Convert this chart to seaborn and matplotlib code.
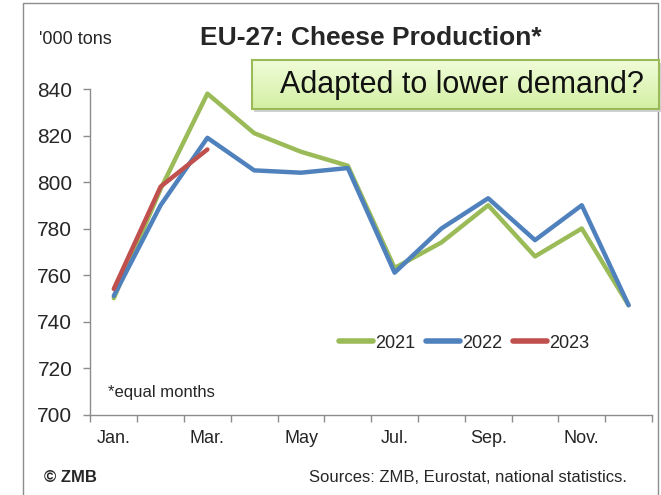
import numpy as np
import pandas as pd
import matplotlib
matplotlib.use('Agg')
import matplotlib.pyplot as plt
import matplotlib.patches as mpatches
import seaborn as sns

# data ('000 tons)
months = ['Jan.', 'Feb.', 'Mar.', 'Apr.', 'May', 'Jun.',
          'Jul.', 'Aug.', 'Sep.', 'Oct.', 'Nov.', 'Dec.']
prod_2021 = [750, 797, 838, 821, 813, 807, 763, 774, 790, 768, 780, 747]
prod_2022 = [751, 790, 819, 805, 804, 806, 761, 780, 793, 775, 790, 747]
prod_2023 = [754, 798, 814]

colors = {'2021': '#9BBB59', '2022': '#4F81BD', '2023': '#C0504D'}

# long form for seaborn
rows = []
for year, vals in [('2021', prod_2021), ('2022', prod_2022), ('2023', prod_2023)]:
    for i, v in enumerate(vals):
        rows.append({'month': i, 'value': v, 'year': year})
df = pd.DataFrame(rows)

sns.set_style('white')
plt.rcParams['font.family'] = ['Liberation Sans', 'DejaVu Sans']
plt.rcParams['lines.solid_capstyle'] = 'round'

W, H = 661, 495
fig = plt.figure(figsize=(W / 100, H / 100), dpi=100)

def fx(px):
    return px / W

def fy(py):
    return 1 - py / H

ax = fig.add_axes([fx(90.4), fy(414.5), fx(652) - fx(90.4), fy(89) - fy(414.5)])
ax.patch.set_visible(False)
sns.lineplot(data=df, x='month', y='value', hue='year', palette=colors,
             sort=False, estimator=None, linewidth=3.2, ax=ax)

ax.set_xlim(-0.5, 11.5)
ax.set_ylim(700, 840)
ax.set_yticks(np.arange(700, 841, 20))
ax.set_xticks(np.arange(-0.5, 12, 1))
ax.set_xticklabels([])
ax.set_xticks(np.arange(0, 12, 2), minor=True)
ax.set_xticklabels(months[::2], minor=True)
ax.tick_params(axis='x', which='major', direction='out', length=5, width=1,
               color='#8c8c8c', bottom=True)
ax.tick_params(axis='x', which='minor', length=0, pad=11, labelsize=13)
ax.tick_params(axis='y', direction='out', length=5, width=1, color='#8c8c8c',
               left=True, pad=8, labelsize=15)
ax.set_xlabel('')
ax.set_ylabel('')
for side in ['top', 'right']:
    ax.spines[side].set_visible(False)
for side in ['left', 'bottom']:
    ax.spines[side].set_color('#8c8c8c')
    ax.spines[side].set_linewidth(1)

handles, labels = ax.get_legend_handles_labels()
for h in handles:
    h.set_linewidth(4)
ax.legend(handles, labels, loc='center', bbox_to_anchor=(fx(464), fy(343)),
          bbox_transform=fig.transFigure, ncol=3, frameon=False, fontsize=13,
          handlelength=1.9, handletextpad=0.1, columnspacing=0.6)

# texts
fig.text(fx(371), fy(38), 'EU-27: Cheese Production*', ha='center', va='center',
         fontsize=19, fontweight='bold')
fig.text(fx(39), fy(40), "'000 tons", ha='left', va='center', fontsize=13)
ax.text(fx(108), fy(393), '*equal months', transform=fig.transFigure,
        ha='left', va='center', fontsize=12)
fig.text(fx(44), fy(477), '\u00a9 ZMB', ha='left', va='center', fontsize=12,
         fontweight='bold')
fig.text(fx(627), fy(477), 'Sources: ZMB, Eurostat, national statistics.',
         ha='right', va='center', fontsize=12)

# outer frame
fig.patches.append(mpatches.Rectangle((fx(23), -0.05), fx(657.5) - fx(23), fy(3) + 0.05,
                                      transform=fig.transFigure, fill=False,
                                      edgecolor='#8c8c8c', linewidth=1, zorder=-1))

# annotation box with gradient fill and shadow
bx0, bx1, by0, by1 = 252, 659, 60, 109
fig.patches.append(mpatches.Rectangle((fx(bx0 + 2), fy(by1 + 3)), fx(bx1) - fx(bx0),
                                      fy(by0) - fy(by1), transform=fig.transFigure,
                                      facecolor='#d0d0d0', edgecolor='none', zorder=-1))
bax = fig.add_axes([fx(bx0), fy(by1), fx(bx1) - fx(bx0), fy(by0) - fy(by1)])
bax.set_zorder(5)
top = np.array([0.94, 0.99, 0.85])
bot = np.array([0.83, 0.94, 0.64])
grad = np.linspace(0, 1, 50)[:, None, None] * (bot - top) + top
bax.imshow(np.repeat(grad, 2, axis=1), aspect='auto', extent=[0, 1, 0, 1])
bax.set_xticks([])
bax.set_yticks([])
for s in bax.spines.values():
    s.set_color('#9BBB59')
    s.set_linewidth(1.5)
bax.text(0.515, 0.5, 'Adapted to lower demand?', ha='center', va='center',
         fontsize=22, color='#111111', transform=bax.transAxes)

fig.savefig('out.png', dpi=100)
